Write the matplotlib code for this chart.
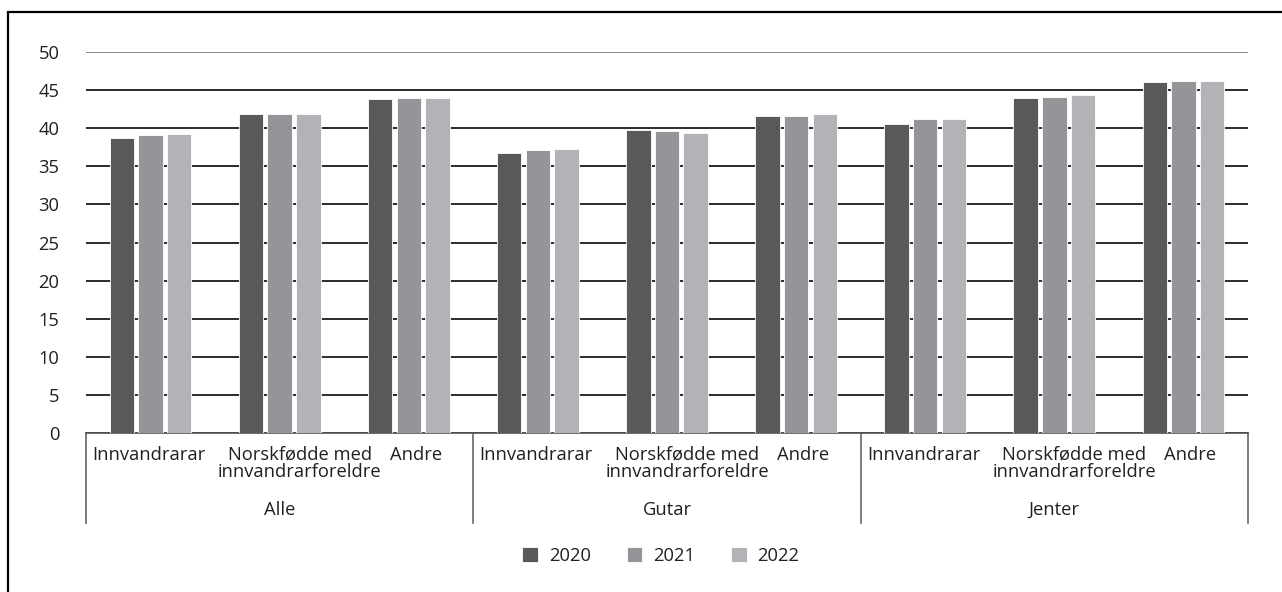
import matplotlib
matplotlib.use('Agg')
import matplotlib.pyplot as plt
import matplotlib.transforms as mtransforms
from matplotlib.lines import Line2D
from matplotlib.patches import Rectangle
import numpy as np

plt.rcParams['font.family'] = ['Open Sans', 'DejaVu Sans']

groups = ["Alle", "Gutar", "Jenter"]
subcats = ["Innvandrarar", "Norskfødde med\ninnvandrarforeldre", "Andre"]
years = ["2020", "2021", "2022"]

v2020 = [38.7, 41.8, 43.8, 36.8, 39.7, 41.6, 40.6, 44.0, 46.1]
v2021 = [39.1, 41.8, 43.9, 37.1, 39.6, 41.6, 41.2, 44.1, 46.2]
v2022 = [39.2, 41.8, 44.0, 37.3, 39.4, 41.8, 41.2, 44.3, 46.2]

colors = ["#58595b", "#939598", "#b1b3b6"]
text_col = "#231f20"
fs = 13.2

W, H = 1282, 592
fig = plt.figure(figsize=(W / 100, H / 100), dpi=100)
ax = fig.add_axes([86 / W, 1 - 433 / H, (1248 - 86) / W, (433 - 52) / H])

x = np.arange(len(v2020))
step = 0.222
width = 0.19
for i, (vals, yr) in enumerate(zip([v2020, v2021, v2022], years)):
    ax.bar(x + (i - 1) * step, vals, width, color=colors[i], label=yr,
           edgecolor="white", linewidth=0.6, zorder=3)

ax.set_xlim(-0.5, len(x) - 0.5)
ax.set_ylim(0, 50)
ax.set_yticks(range(0, 51, 5))
ax.yaxis.grid(True, color="#2b2b2b", linewidth=1.4, zorder=0)
ax.set_axisbelow(True)
for s in ["top", "right", "left"]:
    ax.spines[s].set_visible(False)
ax.spines["bottom"].set_color("#555555")
ax.spines["bottom"].set_linewidth(1.2)
ax.tick_params(axis="y", length=0, pad=19, labelsize=fs, labelcolor=text_col)
ax.set_xticks([])

# top gridline lighter
ax.get_ygridlines()[-1].set_color("#888888")

# category labels (the wrapped label sits a bit right of its bars, as in the original)
trans = mtransforms.blended_transform_factory(ax.transData, ax.transAxes)
label_shift = [-0.012, 0.155, 0.055]
for xi in x:
    k = xi % 3
    ax.text(xi + label_shift[k], -0.034, subcats[k], transform=trans, ha="center",
            va="top", fontsize=fs, color=text_col, linespacing=0.95)

# group separators and labels
for b in [-0.5, 2.5, 5.5, 8.5]:
    ax.add_line(Line2D([b, b], [0, -0.236], transform=trans, color="#666666",
                       linewidth=1.2, clip_on=False))
for gi, g in enumerate(groups):
    ax.text(gi * 3 + 1, -0.202, g, transform=trans, ha="center", va="center",
            fontsize=fs, color=text_col)

leg = fig.legend(loc="center", bbox_to_anchor=(661 / W, 1 - 556 / H), ncol=3,
                 frameon=False, fontsize=fs, handlelength=0.85, handleheight=0.85,
                 columnspacing=1.95, handletextpad=0.6)
for t in leg.get_texts():
    t.set_color(text_col)

# outer frame (only left and top visible in the original)
fig.add_artist(Rectangle((8 / W, -0.1), 1.2, 1 - 12 / H + 0.1, transform=fig.transFigure,
                         fill=False, edgecolor="black", linewidth=1.6))

fig.savefig("out.png", dpi=100)
